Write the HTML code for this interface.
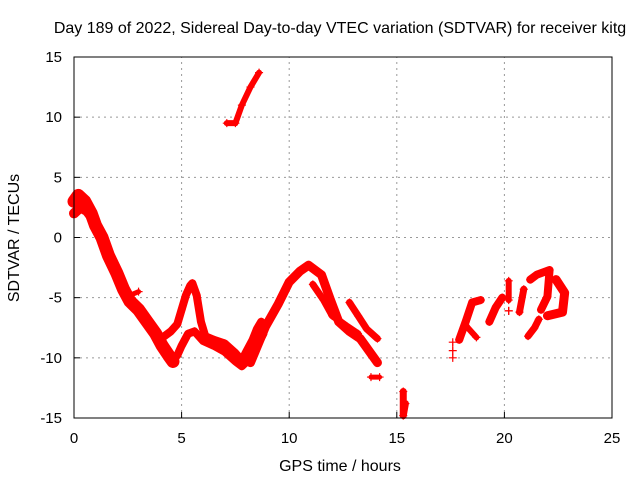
<!DOCTYPE html>
<html><head><meta charset="utf-8"><style>
body{margin:0;background:#fff}
svg text{font-family:"Liberation Sans",sans-serif;font-size:15px;fill:#000}
svg text.big{font-size:16px}
</style></head><body>
<svg id="chart" width="640" height="480" xmlns="http://www.w3.org/2000/svg">
<text class="big" x="340" y="33" text-anchor="middle">Day 189 of 2022, Sidereal Day-to-day VTEC variation (SDTVAR) for receiver kitg</text>
<text class="big" x="340" y="471" text-anchor="middle">GPS time / hours</text>
<text class="big" transform="translate(19,238) rotate(-90)" text-anchor="middle">SDTVAR / TECUs</text>
<g id="grid"></g><g id="marks"></g><g id="axes"></g>
</svg>
<script>
const xTicks=[0,5,10,15,20,25];
const yTicks=[15,10,5,0,-5,-10,-15];
// series segments: hours and values
const segHours=[
 [0,0.2,0.5,0.8,1.0,1.3,1.6,2.0,2.3,2.6,3.0,3.4,3.8,4.1,4.4,4.6],
 [0,0.3,0.6,0.9,1.2],
 [2.6,3.0],
 [4.2,4.5,4.8,5.0,5.2,5.4,5.5,5.7,5.9,6.1,6.5,7.0,7.5,7.8,8.0,8.3,8.5,8.7],
 [4.5,4.8,5.0,5.3,5.6,6.0,6.5,7.0,7.5,7.8,8.2,8.5,8.8],
 [7.1,7.5,7.8,8.2,8.6],
 [8.2,8.9,9.5,10.0,10.5,10.9,11.5,11.9,12.3,12.8,13.3,14.1],
 [11.1,11.6,12.0,12.7,13.2],
 [12.8,13.2,13.6,14.1],
 [13.8,14.2],
 [15.3,15.3,15.4],
 [17.6,17.6,17.6],
 [17.9,18.2,18.5,18.9],
 [18.2,18.7],
 [19.3,19.6,19.9],
 [20.2,20.2],
 [20.2,20.2],
 [20.7,20.9],
 [21.1,21.4,21.6],
 [21.2,21.5,22.1,22.0,21.7],
 [22.4,22.8,22.7,22.0]
];
const segValues=[
 [3,3.5,3,2,1,0,-1.5,-3,-4.3,-5.3,-6,-7,-8,-9,-9.8,-10.3],
 [2,2.5,2.2,1.5,0.5],
 [-4.8,-4.5],
 [-8.2,-7.8,-7.2,-6,-4.8,-4,-3.8,-4.8,-7,-8.2,-8.5,-8.8,-9.6,-10.2,-9.5,-8.5,-7.6,-7],
 [-10.2,-9.8,-9,-8,-7.8,-8.6,-9,-9.5,-10.3,-10.7,-10,-9,-8],
 [9.5,9.5,11,12.5,13.7],
 [-10.4,-7.4,-5.5,-3.7,-2.8,-2.3,-3.1,-5.1,-7,-7.8,-8.4,-10.4],
 [-3.9,-5.2,-6.5,-7.4,-8],
 [-5.4,-6.5,-7.6,-8.4],
 [-11.6,-11.6],
 [-12.8,-14.8,-13.8],
 [-8.7,-9.4,-10],
 [-8.5,-7,-5.4,-5.2],
 [-7.3,-8.3],
 [-7,-5.8,-5],
 [-3.6,-5.2],
 [-6.1,-6.1],
 [-6.2,-4.3],
 [-8.2,-7.5,-6.8],
 [-3.5,-3.1,-2.7,-4.9,-6],
 [-3.5,-4.6,-6.2,-6.5]
];
const segWidths=[13,10,5,8,8,6,9,7,7,5,7,1,8,6,8,6,1,7,7,8,9];
const X0=74,X1=612,Y0=418,Y1=57;
function xs(h){return X0+(h-0)/(25-0)*(X1-X0);}
function ys(v){return Y0-(v+15)/30*(Y0-Y1);}
const NS="http://www.w3.org/2000/svg";
const grid=document.getElementById('grid'),marks=document.getElementById('marks'),axes=document.getElementById('axes');
function mk(tag,attrs,parent){const e=document.createElementNS(NS,tag);for(const k in attrs)e.setAttribute(k,attrs[k]);parent.appendChild(e);return e;}
xTicks.forEach(t=>{
 if(t>0&&t<25){const g=mk('line',{x1:xs(t),x2:xs(t),y1:Y0,y2:Y1,stroke:'#999','stroke-dasharray':'2,4'},grid);
 
 }
 const tk=mk('line',{x1:xs(t),x2:xs(t),y1:Y0,y2:Y0-6,stroke:'#000'},axes);
 
 
 const l=mk('text',{x:xs(t),y:443,'text-anchor':'middle'},axes);l.textContent=t;
 
 
});
yTicks.forEach(t=>{
 if(t>-15&&t<15){const g=mk('line',{x1:X0,x2:X1,y1:ys(t),y2:ys(t),stroke:'#999','stroke-dasharray':'2,4'},grid);
 
 }
 const tk=mk('line',{x1:X0,x2:X0+6,y1:ys(t),y2:ys(t),stroke:'#000'},axes);
 
 
 const l=mk('text',{x:62,y:ys(t)+5,'text-anchor':'end'},axes);l.textContent=t;
 
 
});
const fr=mk('rect',{x:X0,y:Y1,width:X1-X0,height:Y0-Y1,fill:'none',stroke:'#000'},axes);


segHours.forEach((hs,i)=>{
 const vs=segValues[i];
 const pts=hs.map((h,j)=>xs(h)+','+ys(vs[j])).join(' ');
 const pl=mk('polyline',{points:pts,fill:'none',stroke:'#f00','stroke-width':segWidths[i],'stroke-linejoin':'round','stroke-linecap':'round'},marks);
 
 
 hs.forEach((h,j)=>{
  const x=xs(h),y=ys(vs[j]);
  const p=mk('path',{d:`M${x-4},${y}H${x+4}M${x},${y-4}V${y+4}`,stroke:'#f00','stroke-width':1.2},marks);
  
  
 });
});
</script>
</body></html>
